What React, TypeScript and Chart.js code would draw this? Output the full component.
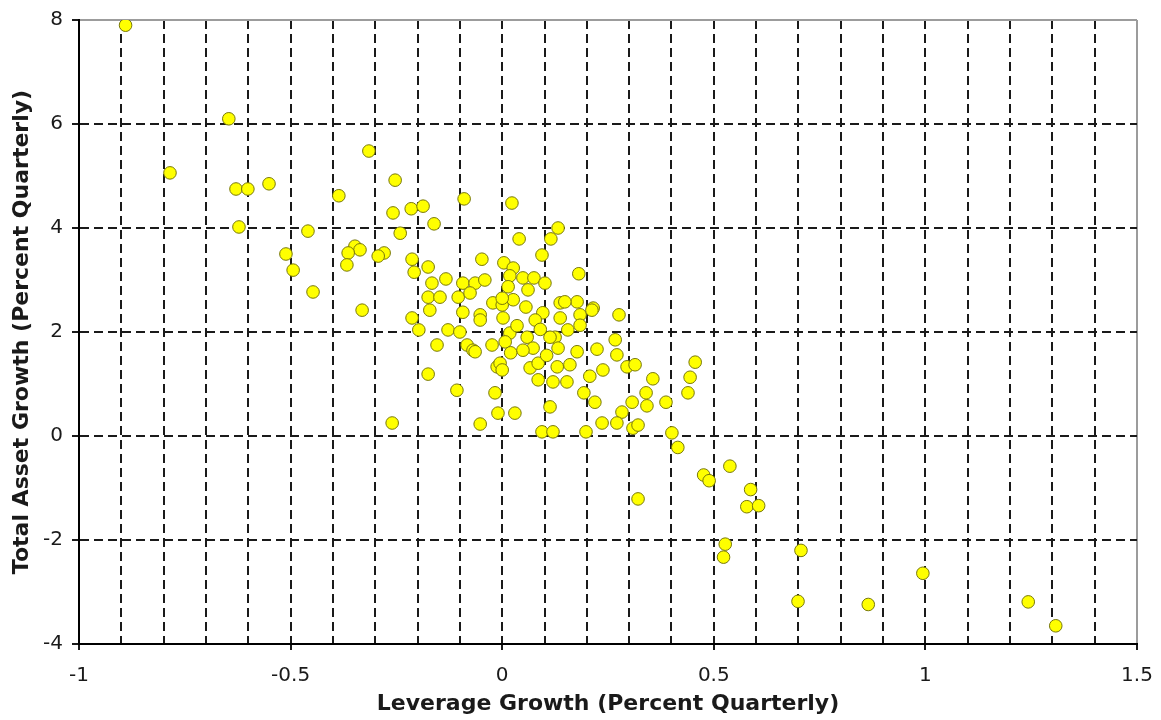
import React, { useEffect, useRef } from "react";
import { Chart, registerables } from "chart.js";

Chart.register(...registerables);

// Leverage growth (x) and total asset growth (y), percent quarterly
const leverageGrowth: number[] = [
  -0.89, -0.785, -0.646, -0.629, -0.601, -0.551, -0.622, -0.459, -0.386, -0.315, -0.253, -0.258, -0.241, -0.215, -0.187, -0.09, -0.161,
  -0.511, -0.494, -0.447, -0.348, -0.336, -0.364, -0.367, -0.279, -0.293, -0.331, -0.213, -0.208, -0.175, -0.048, -0.166, -0.133, -0.093, -0.064, -0.041, -0.175, -0.147, -0.104, -0.076, -0.171, -0.213, -0.093, -0.052, -0.022,
  0.023, 0.04, 0.132, 0.115, 0.094, 0.181, 0.004, 0.026, 0.018, 0.049, 0.075, 0.101, 0.014, 0.061, 0.0, 0.026, 0.056, 0.137, 0.177, 0.215, 0.276, 0.096, 0.184,
  -0.197, -0.154, -0.128, -0.1, -0.083, -0.069, -0.024, -0.175, -0.107, -0.26, -0.052, -0.017, -0.012, -0.01,
  0.002, 0.078, 0.137, 0.184, 0.018, 0.059, 0.125, 0.073, 0.049, 0.132, 0.177, 0.224, 0.267, 0.271, 0.295, 0.314, 0.456, 0.444, 0.439, 0.356, -0.005, 0.0, 0.066, 0.085, 0.13, 0.16, 0.085, 0.12, 0.153, 0.207, 0.238, 0.193, 0.219, 0.113,
  0.03, 0.307, 0.34, 0.342, 0.283, 0.387, 0.094, 0.12, 0.198, 0.236, 0.271, 0.309, 0.321, 0.401, 0.415, 0.155, 0.007,
  0.321, 0.538, 0.476, 0.489, 0.587, 0.578, 0.606, 0.527, 0.523, 0.706, 0.699, 0.865, 0.994, 1.243, 1.308,
  -0.052, 0.0, -0.064, 0.113, 0.148, 0.212, 0.035, 0.09, 0.105, 0.02,
];

const assetGrowth: number[] = [
  7.9, 5.06, 6.1, 4.75, 4.75, 4.85, 4.02, 3.94, 4.62, 5.48, 4.92, 4.29, 3.9, 4.37, 4.42, 4.56, 4.08,
  3.5, 3.19, 2.77, 3.65, 3.58, 3.52, 3.29, 3.52, 3.46, 2.42, 3.4, 3.15, 3.25, 3.4, 2.94, 3.02, 2.94, 2.94, 3.0, 2.67, 2.67, 2.67, 2.75, 2.42, 2.27, 2.38, 2.33, 2.56,
  4.48, 3.79, 4.0, 3.79, 3.48, 3.12, 3.33, 3.23, 3.08, 3.04, 3.04, 2.94, 2.87, 2.81, 2.52, 2.62, 2.48, 2.56, 2.58, 2.46, 2.33, 2.37, 2.33,
  2.04, 1.75, 2.04, 2.0, 1.75, 1.65, 1.75, 1.19, 0.88, 0.25, 0.23, 0.83, 1.33, 0.44,
  2.27, 2.23, 2.27, 2.13, 1.98, 1.9, 1.9, 1.69, 1.65, 1.69, 1.62, 1.67, 1.85, 1.56, 1.33, 1.37, 1.42, 1.13, 0.83, 1.1, 1.4, 1.27, 1.31, 1.4, 1.33, 1.37, 1.08, 1.04, 1.04, 1.15, 1.27, 0.83, 0.65, 0.56,
  0.44, 0.65, 0.83, 0.58, 0.46, 0.65, 0.08, 0.08, 0.08, 0.25, 0.25, 0.15, 0.21, 0.06, -0.22, 2.04, 1.81,
  -1.21, -0.58, -0.75, -0.86, -1.03, -1.36, -1.34, -2.08, -2.33, -2.2, -3.18, -3.24, -2.64, -3.19, -3.65,
  2.23, 2.65, 1.62, 1.9, 2.58, 2.42, 2.12, 2.05, 1.55, 1.6,
];

const X_MIN = -1;
const X_MAX = 1.5;
const X_STEP = 0.1;
const X_LABEL_STEP = 0.5;
const Y_MIN = -4;
const Y_MAX = 8;
const Y_STEP = 2;

const X_TITLE = "Leverage Growth (Percent Quarterly)";
const Y_TITLE = "Total Asset Growth (Percent Quarterly)";

const near = (a: number, b: number) => Math.abs(a - b) < 1e-6;
const isLabelStep = (v: number) => near(v / X_LABEL_STEP, Math.round(v / X_LABEL_STEP));

export default function App() {
  const canvasRef = useRef<HTMLCanvasElement | null>(null);

  useEffect(() => {
    const canvas = canvasRef.current;
    if (!canvas) return;
    const points = leverageGrowth.map((x, i) => ({ x, y: assetGrowth[i] }));
    const dark = "#1a1a1a";
    const frameGray = "#9c9c9c";
    const dash = [9, 5];

    const chart = new Chart(canvas, {
      type: "scatter",
      data: {
        datasets: [
          {
            data: points,
            backgroundColor: "#ffff00",
            borderColor: "#77770c",
            borderWidth: 1,
            pointRadius: 6.3,
            pointHoverRadius: 6.3,
          },
        ],
      },
      options: {
        animation: false,
        responsive: false,
        devicePixelRatio: 1,
        layout: { padding: { top: 20, right: 24, left: 0, bottom: 0 } },
        plugins: {
          legend: { display: false },
          tooltip: { enabled: false },
        },
        scales: {
          x: {
            type: "linear",
            min: X_MIN,
            max: X_MAX,
            afterFit: (scale: any) => {
              scale.height = 76;
              scale.paddingLeft = 0;
              scale.paddingRight = 0;
            },
            ticks: {
              stepSize: X_STEP,
              autoSkip: false,
              maxRotation: 0,
              padding: 14,
              color: dark,
              font: { family: "DejaVu Sans", size: 20 },
              callback: (v: any) => {
                const n = Number(v);
                return isLabelStep(n) ? String(Number(n.toFixed(1))) : "";
              },
            },
            grid: {
              color: (ctx: any) => {
                const v = ctx.tick ? ctx.tick.value : null;
                if (v === null) return dark;
                if (near(v, X_MIN)) return "rgba(0,0,0,0)";
                if (near(v, X_MAX)) return frameGray;
                return dark;
              },
              lineWidth: 2,
              tickLength: 6,
              tickWidth: 2,
              tickColor: (ctx: any) => {
                const v = ctx.tick ? ctx.tick.value : 0;
                return isLabelStep(v) ? dark : "rgba(0,0,0,0)";
              },
            },
            border: {
              display: true,
              color: "#000",
              width: 2,
              dash: (ctx: any) => {
                const v = ctx.tick ? ctx.tick.value : null;
                if (v !== null && near(v, X_MAX)) return [];
                return dash;
              },
            },
            title: {
              display: true,
              text: X_TITLE,
              color: dark,
              font: { family: "DejaVu Sans", size: 22, weight: "bold" },
              padding: { top: 0, bottom: 3 },
            },
          },
          y: {
            type: "linear",
            min: Y_MIN,
            max: Y_MAX,
            afterFit: (scale: any) => {
              scale.width = 79;
              scale.paddingTop = 0;
              scale.paddingBottom = 0;
            },
            ticks: {
              stepSize: Y_STEP,
              padding: 9,
              color: dark,
              font: { family: "DejaVu Sans", size: 20 },
            },
            grid: {
              color: (ctx: any) => {
                const v = ctx.tick ? ctx.tick.value : null;
                if (v === null) return dark;
                if (near(v, Y_MIN)) return "rgba(0,0,0,0)";
                if (near(v, Y_MAX)) return frameGray;
                return dark;
              },
              lineWidth: 2,
              tickLength: 7,
              tickWidth: 2,
              tickColor: dark,
            },
            border: {
              display: true,
              color: "#000",
              width: 2,
              dash: (ctx: any) => {
                const v = ctx.tick ? ctx.tick.value : null;
                if (v !== null && near(v, Y_MAX)) return [];
                return dash;
              },
            },
            title: {
              display: true,
              text: Y_TITLE,
              color: dark,
              font: { family: "DejaVu Sans", size: 22, weight: "bold" },
              padding: { top: 9, bottom: 0 },
            },
          },
        },
      },
    } as any);

    return () => chart.destroy();
  }, []);

  return (
    <div
      style={{
        position: "fixed",
        left: 0,
        top: 0,
        width: 1161,
        height: 720,
        background: "#ffffff",
      }}
    >
      <canvas ref={canvasRef} width={1161} height={720} style={{ display: "block" }} />
    </div>
  );
}
